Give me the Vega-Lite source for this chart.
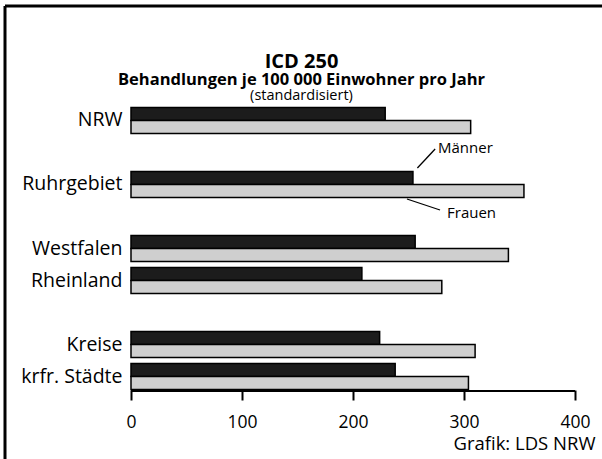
{
  "$schema": "https://vega.github.io/schema/vega-lite/v6.json",
  "usermeta": {"embedOptions": {"actions": false}},
  "autosize": {"type": "none"},
  "width": 597,
  "height": 453,
  "padding": {"left": 5, "top": 6, "right": 0, "bottom": 0},
  "background": "white",
  "config": {
    "view": {"stroke": null},
    "font": "Open Sans"
  },
  "title": {
    "text": "ICD 250",
    "subtitle": "Behandlungen je 100 000 Einwohner pro Jahr",
    "font": "Open Sans",
    "fontSize": 20,
    "fontWeight": "bold",
    "color": "black",
    "subtitleFont": "Open Sans",
    "subtitleFontSize": 16.5,
    "subtitleFontWeight": "bold",
    "subtitleColor": "black",
    "subtitlePadding": 0,
    "anchor": "middle",
    "frame": "group",
    "dx": -2,
    "offset": -84
  },
  "data": {
    "values": [
      {"region": "NRW", "sex": "Männer", "value": 229},
      {"region": "NRW", "sex": "Frauen", "value": 306},
      {"region": "Ruhrgebiet", "sex": "Männer", "value": 254},
      {"region": "Ruhrgebiet", "sex": "Frauen", "value": 354},
      {"region": "Westfalen", "sex": "Männer", "value": 256},
      {"region": "Westfalen", "sex": "Frauen", "value": 340},
      {"region": "Rheinland", "sex": "Männer", "value": 208},
      {"region": "Rheinland", "sex": "Frauen", "value": 280},
      {"region": "Kreise", "sex": "Männer", "value": 224},
      {"region": "Kreise", "sex": "Frauen", "value": 310},
      {"region": "krfr. Städte", "sex": "Männer", "value": 238},
      {"region": "krfr. Städte", "sex": "Frauen", "value": 304}
    ]
  },
  "layer": [
    {
      "mark": {"type": "bar", "stroke": "black", "strokeWidth": 1.5},
      "encoding": {
        "y": {
          "field": "region",
          "type": "nominal",
          "scale": {
            "domain": ["_a", "_b", "_c", "NRW", "_g1", "Ruhrgebiet", "_g2", "Westfalen", "Rheinland", "_g3", "Kreise", "krfr. Städte", "_d", "_e"],
            "paddingInner": 0,
            "paddingOuter": 0.078
          },
          "axis": {
            "orient": "left",
            "offset": -126,
            "ticks": false,
            "domain": false,
            "grid": false,
            "labelPadding": 9,
            "labelFont": "Open Sans",
            "labelFontSize": 19.5,
            "labelColor": "black",
            "labelExpr": "indexof(datum.value, '_') === 0 ? '' : datum.value",
            "title": "(standardisiert)",
            "titleAngle": 0,
            "titleX": 170,
            "titleY": 89,
            "titleAlign": "center",
            "titleBaseline": "middle",
            "titleFont": "Open Sans",
            "titleFontSize": 14.5,
            "titleFontWeight": "normal",
            "titleColor": "black"
          }
        },
        "yOffset": {
          "field": "sex",
          "type": "nominal",
          "scale": {"domain": ["Männer", "Frauen"], "paddingInner": 0, "paddingOuter": 0.23}
        },
        "x": {
          "field": "value",
          "type": "quantitative",
          "scale": {"domain": [-113.51, 424.32], "nice": false, "zero": false},
          "axis": {
            "orient": "bottom",
            "offset": -69,
            "values": [0, 100, 200, 300, 400],
            "domain": false,
            "grid": false,
            "tickSize": 10,
            "tickWidth": 2,
            "tickColor": "black",
            "labelPadding": 13,
            "labelFont": "Open Sans",
            "labelFontSize": 17.5,
            "labelColor": "black",
            "title": "Grafik: LDS NRW",
            "titleX": 590,
            "titleY": 53,
            "titleAlign": "right",
            "titleBaseline": "middle",
            "titleFont": "Open Sans",
            "titleFontSize": 18.5,
            "titleFontWeight": "normal",
            "titleColor": "black"
          }
        },
        "x2": {"datum": 0},
        "color": {
          "field": "sex",
          "type": "nominal",
          "scale": {"domain": ["Männer", "Frauen"], "range": ["#1c1c1c", "#cfcfcf"]},
          "legend": null
        }
      }
    },
    {
      "data": {"values": [{}]},
      "mark": {"type": "rule", "stroke": "black", "strokeWidth": 2, "yOffset": 14.5},
      "encoding": {
        "x": {"datum": 0, "type": "quantitative"},
        "x2": {"datum": 400},
        "y": {"datum": "krfr. Städte", "type": "nominal"}
      }
    },
    {
      "data": {"values": [{}]},
      "mark": {"type": "rule", "stroke": "black", "strokeWidth": 3},
      "encoding": {
        "x": {"datum": -113.51, "type": "quantitative"}
      }
    },
    {
      "data": {"values": [{}]},
      "mark": {"type": "rule", "stroke": "black", "strokeWidth": 3, "yOffset": -18.5},
      "encoding": {
        "y": {"datum": "_a", "type": "nominal"}
      }
    },
    {
      "data": {"values": [{}]},
      "mark": {"type": "rule", "stroke": "black", "strokeWidth": 1.3, "yOffset": 15.5, "y2Offset": -3.5},
      "encoding": {
        "x": {"datum": 258, "type": "quantitative"},
        "x2": {"datum": 274},
        "y": {"datum": "_g1", "type": "nominal"},
        "y2": {"datum": "_g1"}
      }
    },
    {
      "data": {"values": [{}]},
      "mark": {"type": "rule", "stroke": "black", "strokeWidth": 1.3, "yOffset": -17.5, "y2Offset": -6.5},
      "encoding": {
        "x": {"datum": 248.6, "type": "quantitative"},
        "x2": {"datum": 278.4},
        "y": {"datum": "_g2", "type": "nominal"},
        "y2": {"datum": "_g2"}
      }
    },
    {
      "data": {"values": [{}]},
      "mark": {"type": "text", "align": "left", "baseline": "middle", "font": "Open Sans", "fontSize": 15, "fontWeight": "normal", "fill": "black", "dy": -4},
      "encoding": {
        "x": {"datum": 276.6, "type": "quantitative"},
        "y": {"datum": "_g1", "type": "nominal"},
        "text": {"value": "Männer"}
      }
    },
    {
      "data": {"values": [{}]},
      "mark": {"type": "text", "align": "left", "baseline": "middle", "font": "Open Sans", "fontSize": 15, "fontWeight": "normal", "fill": "black", "dy": -3},
      "encoding": {
        "x": {"datum": 284.7, "type": "quantitative"},
        "y": {"datum": "_g2", "type": "nominal"},
        "text": {"value": "Frauen"}
      }
    }
  ]
}
